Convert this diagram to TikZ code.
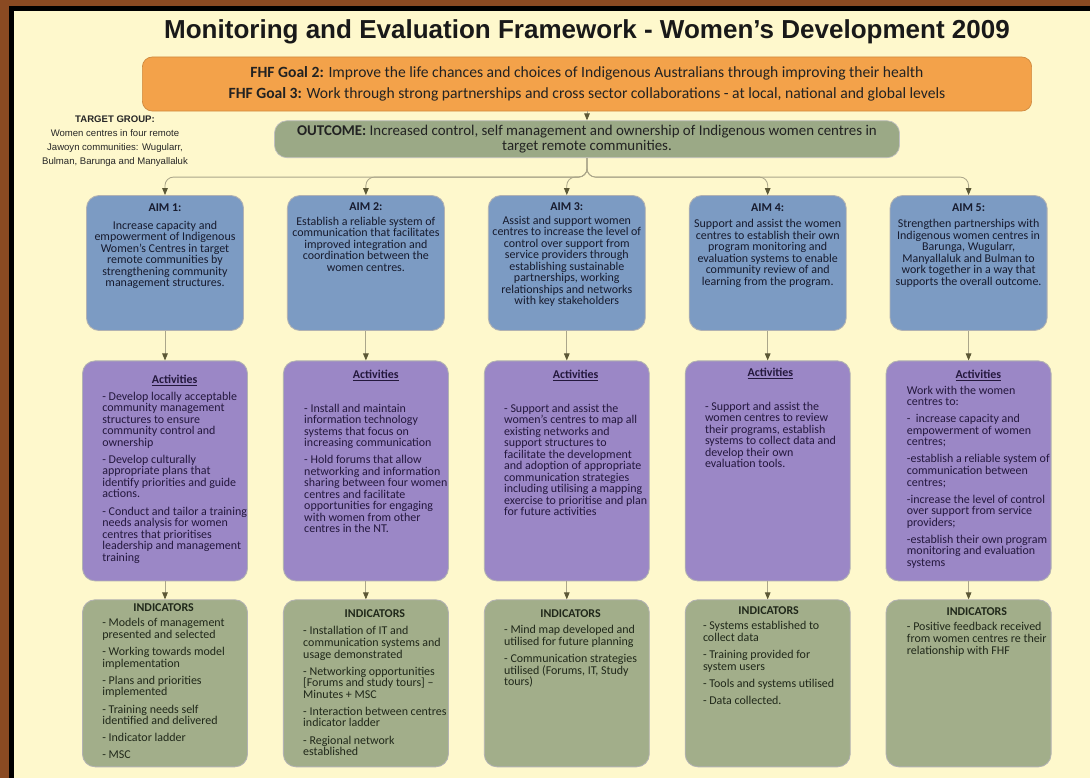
\documentclass[tikz,border=0pt]{standalone}
\usepackage{fontspec}
\setmainfont{Carlito}
\newfontfamily\headfont{Liberation Sans}
\usetikzlibrary{arrows.meta,positioning,calc}
\definecolor{WoodBrown}{HTML}{8A4A22}
\definecolor{PaperCream}{HTML}{FEF8CC}
\definecolor{GoalOrange}{HTML}{F3A24A}
\definecolor{OutGreen}{HTML}{9BA986}
\definecolor{SageGreen}{HTML}{A2AE8A}
\definecolor{AimBlue}{HTML}{7C9BC3}
\definecolor{ActPurple}{HTML}{9B87C6}
\definecolor{LinkOlive}{HTML}{ABA68A}
\definecolor{TipOlive}{HTML}{5C5836}
\definecolor{InkBlue}{HTML}{171B2E}
\definecolor{InkPurple}{HTML}{24183D}
\definecolor{InkGreen}{HTML}{20281A}
\definecolor{InkDark}{HTML}{222222}
\newcommand{\smallbody}{\fontsize{8.5}{8.2}\selectfont\lineskiplimit=-4pt\relax}
\newcommand{\outcomefont}{\fontsize{10.6}{10.7}\selectfont\lineskiplimit=-4pt\relax}
\tikzset{
  goalbox/.style={rounded corners=7pt, draw=GoalOrange!85!black, fill=GoalOrange, line width=0.5pt, align=center, minimum width=22.225cm, minimum height=1.35cm, font=\fontsize{11.1}{15}\selectfont, text=InkDark},
  outbox/.style={rounded corners=9pt, draw=black!25, fill=OutGreen, line width=0.5pt, align=center, minimum width=15.625cm, minimum height=0.925cm, inner sep=0pt, font=\outcomefont, text=InkDark},
  aimbox/.style={rounded corners=9pt, draw=black!30, fill=AimBlue, line width=0.6pt, minimum width=3.925cm, minimum height=3.375cm, inner sep=0pt},
  actbox/.style={rounded corners=9pt, draw=black!30, fill=ActPurple, line width=0.6pt, minimum width=4.125cm, minimum height=5.5cm, inner sep=0pt},
  indbox/.style={rounded corners=9pt, draw=black!30, fill=SageGreen, line width=0.6pt, minimum width=4.125cm, minimum height=4.175cm, inner sep=0pt},
  aimhead/.style={font=\fontsize{8.5}{9}\selectfont\bfseries, text=InkBlue, inner sep=0pt},
  acthead/.style={font=\fontsize{8.5}{9}\selectfont\bfseries, text=InkPurple, inner sep=0pt},
  indhead/.style={font=\fontsize{8.5}{9}\selectfont\bfseries, text=InkGreen, inner sep=0pt},
  aimtext/.style={font=\smallbody, text=InkBlue, align=center, inner sep=0pt},
  acttext/.style={font=\smallbody, text=InkPurple, align=left, inner sep=0pt},
  indtext/.style={font=\smallbody, text=InkGreen, align=left, inner sep=0pt},
  link/.style={draw=LinkOlive, line width=0.6pt, -{Triangle[length=5pt,width=4pt,color=TipOlive]}}
}

\begin{document}
\begin{tikzpicture}[x=0.025cm, y=0.025cm, node distance=6mm]
    % wooden frame and paper
    \useasboundingbox (0,0) rectangle (1090,-778);
    \fill[WoodBrown] (0,0) rectangle (1090,-778);
    \fill[black] (9,-6) rectangle (1090,-778);
    \fill[PaperCream] (14,-11) rectangle (1090,-778);

    \node[font=\headfont\bfseries\fontsize{18.5}{20}\selectfont, text=black!90] (title) at (587,-32) {Monitoring and Evaluation Framework - Women’s Development 2009};

    \node[goalbox] (goal) at (587,-84) {\textbf{FHF Goal 2:} Improve the life chances and choices of Indigenous Australians through improving their health\\ \textbf{FHF Goal 3:} Work through strong partnerships and cross sector collaborations - at local, national and global levels};
    \node[outbox, below=0.225cm of goal] (outcome) {\textbf{OUTCOME:} Increased control, self management and ownership of Indigenous women centres in\\ target remote communities.};
    \node[font=\headfont\fontsize{6.8}{9.8}\selectfont, text=black!85, align=center] (target) at (115,-141) {\textbf{TARGET GROUP:}\\ Women centres in four remote\\ Jawoyn communities: Wugularr,\\ Bulman, Barunga and Manyallaluk};

    % aims
    \node[aimbox] (aim1) at (165,-263) {};
    \node[aimbox, right=1.075cm of aim1] (aim2) {};
    \node[aimbox, right=1.075cm of aim2] (aim3) {};
    \node[aimbox, right=1.075cm of aim3] (aim4) {};
    \node[aimbox, right=1.075cm of aim4] (aim5) {};

    % activities and indicators
    \node[actbox, below=0.7375cm of aim1] (act1) {};
    \node[actbox, below=0.7375cm of aim2] (act2) {};
    \node[actbox, below=0.7375cm of aim3] (act3) {};
    \node[actbox, below=0.7375cm of aim4] (act4) {};
    \node[actbox, below=0.7375cm of aim5] (act5) {};
    \node[indbox, below=0.45cm of act1] (ind1) {};
    \node[indbox, below=0.45cm of act2] (ind2) {};
    \node[indbox, below=0.45cm of act3] (ind3) {};
    \node[indbox, below=0.45cm of act4] (ind4) {};
    \node[indbox, below=0.45cm of act5] (ind5) {};

    % aim texts
    \node[aimhead, below=6.2pt of aim1.north] (aimh1) {AIM 1:};
    \node[aimhead, below=5pt of aim2.north] (aimh2) {AIM 2:};
    \node[aimhead, below=5pt of aim3.north] (aimh3) {AIM 3:};
    \node[aimhead, below=6.2pt of aim4.north] (aimh4) {AIM 4:};
    \node[aimhead, below=6.2pt of aim5.north] (aimh5) {AIM 5:};
    \node[aimtext, below=6pt of aimh1] (aimtx1) {Increase capacity and\\ empowerment of Indigenous\\ Women’s Centres in target\\ remote communities by\\ strengthening community\\ management structures.};
    \node[aimtext, below=4.3pt of aimh2] (aimtx2) {Establish a reliable system of\\ communication that facilitates\\ improved integration and\\ coordination between the\\ women centres.};
    \node[aimtext, below=3.6pt of aimh3] (aimtx3) {Assist and support women\\ centres to increase the level of\\ control over support from\\ service providers through\\ establishing sustainable\\ partnerships, working\\ relationships and networks\\ with key stakeholders};
    \node[aimtext, below=5pt of aimh4] (aimtx4) {Support and assist the women\\ centres to establish their own\\ program monitoring and\\ evaluation systems to enable\\ community review of and\\ learning from the program.};
    \node[aimtext, below=5pt of aimh5] (aimtx5) {Strengthen partnerships with\\ Indigenous women centres in\\ Barunga, Wugularr,\\ Manyallaluk and Bulman to\\ work together in a way that\\ supports the overall outcome.};

    % activity texts
    \node[acttext, below right=0.775cm and 0.5cm of act1.north west] (acttx1) {- Develop locally acceptable\\ community management\\ structures to ensure\\ community control and\\ ownership\\[4pt] - Develop culturally\\ appropriate plans that\\ identify priorities and guide\\ actions.\\[4pt] - Conduct and tailor a training\\ needs analysis for women\\ centres that prioritises\\ leadership and management\\ training};
    \node[acttext, below right=1.075cm and 0.525cm of act2.north west] (acttx2) {- Install and maintain\\ information technology\\ systems that focus on\\ increasing communication\\[4pt] - Hold forums that allow\\ networking and information\\ sharing between four women\\ centres and facilitate\\ opportunities for engaging\\ with women from other\\ centres in the NT.};
    \node[acttext, below right=1.075cm and 0.5cm of act3.north west] (acttx3) {- Support and assist the\\ women’s centres to map all\\ existing networks and\\ support structures to\\ facilitate the development\\ and adoption of appropriate\\ communication strategies\\ including utilising a mapping\\ exercise to prioritise and plan\\ for future activities};
    \node[acttext, below right=1.025cm and 0.5cm of act4.north west] (acttx4) {- Support and assist the\\ women centres to review\\ their programs, establish\\ systems to collect data and\\ develop their own\\ evaluation tools.};
    \node[acttext, below right=0.625cm and 0.525cm of act5.north west] (acttx5) {Work with the women\\ centres to:\\[4pt] -\ \ increase capacity and\\ empowerment of women\\ centres;\\[4pt] -establish a reliable system of\\ communication between\\ centres;\\[4pt] -increase the level of control\\ over support from service\\ providers;\\[4pt] -establish their own program\\ monitoring and evaluation\\ systems};
    \node[acthead] (acth1) at ($(acttx1.north |- act1.north)+(0,-20)$) {\underline{Activities}};
    \node[acthead] (acth2) at ($(acttx2.north |- act2.north)+(0,-15)$) {\underline{Activities}};
    \node[acthead] (acth3) at ($(acttx3.north |- act3.north)+(0,-15)$) {\underline{Activities}};
    \node[acthead] (acth4) at ($(acttx4.north |- act4.north)+(0,-13)$) {\underline{Activities}};
    \node[acthead] (acth5) at ($(acttx5.north |- act5.north)+(0,-15)$) {\underline{Activities}};

    % indicator texts
    \node[indtext, below right=0.475cm and 0.5cm of ind1.north west] (indtx1) {- Models of management\\ presented and selected\\[4pt] - Working towards model\\ implementation\\[4pt] - Plans and priorities\\ implemented\\[4pt] - Training needs self\\ identified and delivered\\[4pt] - Indicator ladder\\[4pt] - MSC};
    \node[indtext, below right=0.675cm and 0.5cm of ind2.north west] (indtx2) {- Installation of IT and\\ communication systems and\\ usage demonstrated\\[4pt] - Networking opportunities\\ {[}Forums and study tours{]} --\\ Minutes + MSC\\[4pt] - Interaction between centres\\ indicator ladder\\[4pt] - Regional network\\ established};
    \node[indtext, below right=0.65cm and 0.5cm of ind3.north west] (indtx3) {- Mind map developed and\\ utilised for future planning\\[4pt] - Communication strategies\\ utilised (Forums, IT, Study\\ tours)};
    \node[indtext, below right=0.55cm and 0.45cm of ind4.north west] (indtx4) {- Systems established to\\ collect data\\[4pt] - Training provided for\\ system users\\[4pt] - Tools and systems utilised\\[4pt] - Data collected.};
    \node[indtext, below right=0.575cm and 0.525cm of ind5.north west] (indtx5) {- Positive feedback received\\ from women centres re their\\ relationship with FHF};
    \node[indhead] (indh1) at ($(indtx1.north |- ind1.north)+(0,-8)$) {INDICATORS};
    \node[indhead] (indh2) at ($(indtx2.north |- ind2.north)+(0,-14)$) {INDICATORS};
    \node[indhead] (indh3) at ($(indtx3.north |- ind3.north)+(0,-14)$) {INDICATORS};
    \node[indhead] (indh4) at ($(indtx4.north |- ind4.north)+(0,-11)$) {INDICATORS};
    \node[indhead] (indh5) at ($(indtx5.north |- ind5.north)+(0,-12)$) {INDICATORS};

    % connectors
    \draw[link] (goal.south) -- (outcome.north);
    \draw[link, rounded corners=6pt] (outcome.south) -- ++(0,-19) -| (aim1.north);
    \draw[link, rounded corners=6pt] (outcome.south) -- ++(0,-19) -| (aim2.north);
    \draw[link, rounded corners=6pt] (outcome.south) -- ++(0,-19) -| (aim3.north);
    \draw[link, rounded corners=6pt] (outcome.south) -- ++(0,-19) -| (aim4.north);
    \draw[link, rounded corners=6pt] (outcome.south) -- ++(0,-19) -| (aim5.north);
    \draw[link] (aim1.south) -- (act1.north);
    \draw[link] (aim2.south) -- (act2.north);
    \draw[link] (aim3.south) -- (act3.north);
    \draw[link] (aim4.south) -- (act4.north);
    \draw[link] (aim5.south) -- (act5.north);
    \draw[link] (act1.south) -- (ind1.north);
    \draw[link] (act2.south) -- (ind2.north);
    \draw[link] (act3.south) -- (ind3.north);
    \draw[link] (act4.south) -- (ind4.north);
    \draw[link] (act5.south) -- (ind5.north);
\end{tikzpicture}
\end{document}
